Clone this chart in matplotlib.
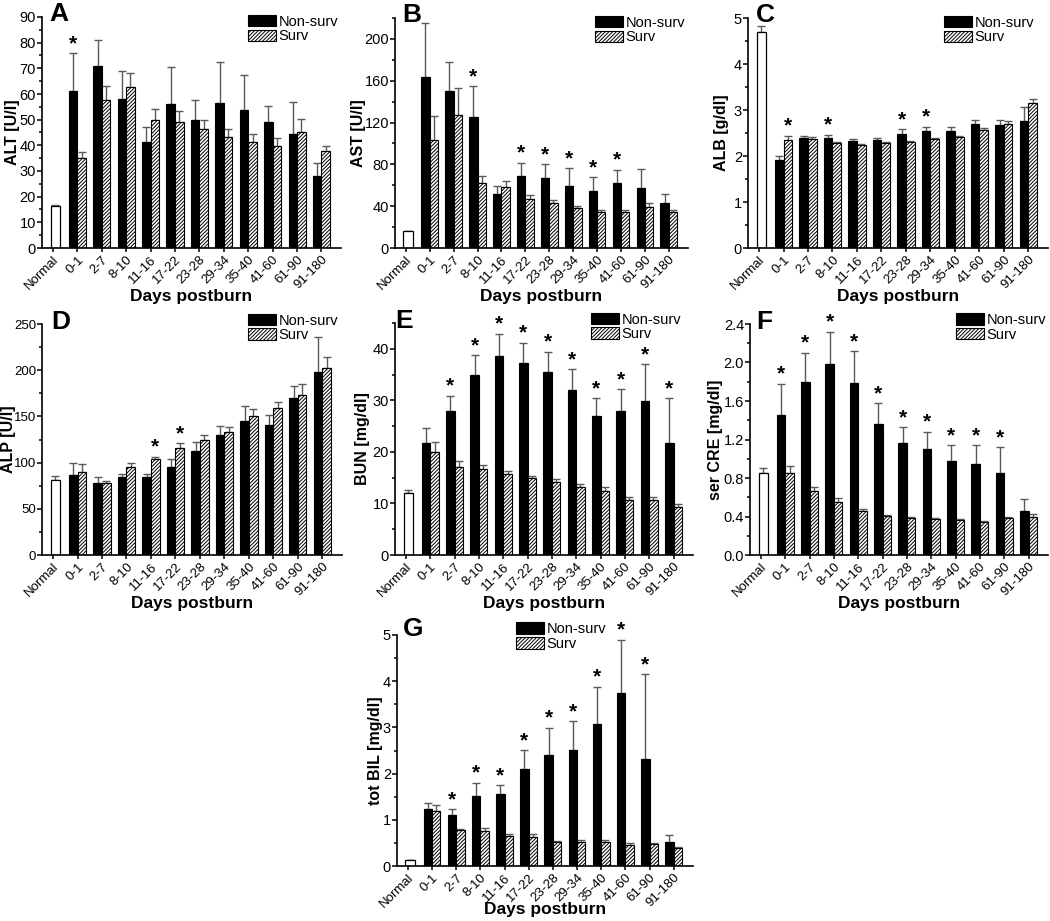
import numpy as np
import matplotlib
matplotlib.use("Agg")
import matplotlib.pyplot as plt
from matplotlib.patches import Patch
from matplotlib.ticker import MultipleLocator

plt.rcParams['font.family'] = ['Liberation Sans', 'DejaVu Sans']
plt.rcParams['hatch.linewidth'] = 0.7

groups = ["0-1", "2-7", "8-10", "11-16", "17-22", "23-28", "29-34",
          "35-40", "41-60", "61-90", "91-180"]
tick_labels = ["Normal"] + groups

# ALT [U/l]
alt_normal, alt_normal_err = 16.2, 0.4
alt_ns = [61, 71, 58, 41.2, 56, 50, 56.5, 53.7, 49, 44.5, 28]
alt_ns_err = [15, 10, 11, 5.8, 14.5, 7.8, 16, 13.8, 6.3, 12.3, 5]
alt_s = [35, 57.7, 62.8, 49.8, 49, 46.4, 43.3, 41.4, 39.8, 45.3, 37.7]
alt_s_err = [2.5, 5.3, 5.5, 4.2, 4.2, 3.6, 3, 3.1, 3.2, 4.9, 2.1]
alt_star_ns = [0]
alt_star_s = []

# AST [U/l]
ast_normal, ast_normal_err = 16, 0.5
ast_ns = [164, 150, 125, 52, 69, 67, 59, 54.4, 62.3, 57, 43.4]
ast_ns_err = [51, 28, 30, 7.5, 12.6, 13, 17.6, 13.6, 12.7, 19, 8.6]
ast_s = [103, 127, 62, 58, 47, 43, 38, 34.5, 34.5, 39.5, 34.5]
ast_s_err = [23, 26, 7, 6, 4, 2.5, 2.5, 2, 2, 3.2, 2]
ast_star_ns = [2, 4, 5, 6, 7, 8]
ast_star_s = []

# ALB [g/dl]
alb_normal, alb_normal_err = 4.70, 0.13
alb_ns = [1.92, 2.39, 2.39, 2.32, 2.35, 2.48, 2.55, 2.55, 2.69, 2.68, 2.76]
alb_ns_err = [0.09, 0.05, 0.07, 0.05, 0.05, 0.10, 0.09, 0.09, 0.10, 0.11, 0.31]
alb_s = [2.34, 2.38, 2.28, 2.23, 2.28, 2.31, 2.37, 2.41, 2.57, 2.70, 3.16]
alb_s_err = [0.10, 0.04, 0.03, 0.02, 0.03, 0.02, 0.02, 0.02, 0.04, 0.06, 0.08]
alb_star_ns = [2, 5, 6]
alb_star_s = [0]

# ALP [U/l]
alp_normal, alp_normal_err = 81, 4
alp_ns = [86.6, 78.3, 84, 84, 95.6, 113, 130, 145, 141, 169.5, 198.4]
alp_ns_err = [13.4, 6.5, 3.7, 4, 8.4, 9.6, 10, 16, 10.5, 13.5, 37]
alp_s = [90, 77.6, 95.6, 103.5, 116, 125, 133.5, 150, 158.7, 173, 202]
alp_s_err = [9, 2.4, 4.4, 2.9, 5, 5, 5.5, 7.6, 7.3, 11.7, 12]
alp_star_ns = []
alp_star_s = [3, 4]

# BUN [mg/dl]
bun_normal, bun_normal_err = 12.1, 0.5
bun_ns = [21.8, 28, 35, 38.6, 37.3, 35.4, 32, 27, 28, 29.8, 21.7]
bun_ns_err = [2.8, 2.9, 3.8, 4.3, 3.9, 4, 4, 3.4, 4.2, 7.2, 8.7]
bun_s = [20, 17, 16.6, 15.7, 14.9, 14.2, 13.2, 12.5, 10.7, 10.6, 9.4]
bun_s_err = [1.9, 1.2, 0.9, 0.6, 0.5, 0.6, 0.5, 0.7, 0.5, 0.6, 0.5]
bun_star_ns = [1, 2, 3, 4, 5, 6, 7, 8, 9, 10]
bun_star_s = []

# ser CRE [mg/dl]
cre_normal, cre_normal_err = 0.85, 0.05
cre_ns = [1.455, 1.80, 1.98, 1.79, 1.36, 1.16, 1.10, 0.98, 0.945, 0.85, 0.46]
cre_ns_err = [0.325, 0.30, 0.34, 0.33, 0.22, 0.17, 0.18, 0.16, 0.195, 0.27, 0.12]
cre_s = [0.85, 0.66, 0.55, 0.46, 0.405, 0.38, 0.37, 0.36, 0.345, 0.38, 0.40]
cre_s_err = [0.07, 0.05, 0.04, 0.015, 0.015, 0.01, 0.015, 0.015, 0.01, 0.015, 0.03]
cre_star_ns = [0, 1, 2, 3, 4, 5, 6, 7, 8, 9]
cre_star_s = []

# tot BIL [mg/dl]
bil_normal, bil_normal_err = 0.12, 0.02
bil_ns = [1.24, 1.11, 1.51, 1.55, 2.09, 2.41, 2.51, 3.07, 3.74, 2.31, 0.53]
bil_ns_err = [0.13, 0.12, 0.29, 0.20, 0.42, 0.58, 0.63, 0.81, 1.16, 1.84, 0.15]
bil_s = [1.20, 0.77, 0.75, 0.65, 0.63, 0.51, 0.51, 0.52, 0.46, 0.47, 0.39]
bil_s_err = [0.13, 0.04, 0.08, 0.05, 0.07, 0.03, 0.05, 0.05, 0.04, 0.03, 0.02]
bil_star_ns = [1, 2, 3, 4, 5, 6, 7, 8, 9]
bil_star_s = []

W, H = 1050, 921
fig = plt.figure(figsize=(W / 100, H / 100), dpi=100)

bw = 0.35
ecol = "#5a5a5a"
hatch = "/////////"


def px_axes(left, right, top, bottom):
    return fig.add_axes([left / W, 1 - bottom / H, (right - left) / W, (bottom - top) / H])


def panel(ax, letter, normal, normal_err, ns, ns_err, s, s_err, star_ns, star_s,
          ylabel, ymax, major, minor, fmt, leg_xy, letter_xy, ylab_x,
          ysize=10.5, xlab_y=-0.21):
    x = np.arange(1, len(ns) + 1)
    ax.bar(0.1, normal, width=0.4, color="white", edgecolor="black", linewidth=0.9, zorder=2)
    ax.errorbar(0.1, normal, yerr=[[0], [normal_err]], fmt="none", ecolor=ecol,
                elinewidth=1.0, capsize=3, capthick=1.0, zorder=1)
    ax.bar(x - bw / 2, ns, width=bw, color="black", edgecolor="black", linewidth=0.8, zorder=2)
    ax.bar(x + bw / 2, s, width=bw, color="white", edgecolor="black", hatch=hatch,
           linewidth=0.8, zorder=2)
    ax.errorbar(x - bw / 2, ns, yerr=[np.zeros(len(ns)), ns_err], fmt="none", ecolor=ecol,
                elinewidth=1.0, capsize=3, capthick=1.0, zorder=1)
    ax.errorbar(x + bw / 2, s, yerr=[np.zeros(len(s)), s_err], fmt="none", ecolor=ecol,
                elinewidth=1.0, capsize=3, capthick=1.0, zorder=1)
    for i in star_ns:
        ax.annotate("*", (x[i] - bw / 2, ns[i] + ns_err[i]), xytext=(0, 0),
                    textcoords="offset points", ha="center", va="bottom",
                    fontsize=15, fontweight="bold")
    for i in star_s:
        ax.annotate("*", (x[i] + bw / 2, s[i] + s_err[i]), xytext=(0, 0),
                    textcoords="offset points", ha="center", va="bottom",
                    fontsize=15, fontweight="bold")

    ax.set_xlim(-0.45, 11.8)
    ax.set_ylim(0, ymax)
    ax.set_xticks(np.arange(0, len(ns) + 1))
    ax.set_xticklabels(tick_labels, rotation=45, ha="right", rotation_mode="anchor",
                       fontsize=9.5)
    ax.yaxis.set_major_locator(MultipleLocator(major))
    ax.yaxis.set_minor_locator(MultipleLocator(minor))
    ax.yaxis.set_major_formatter(plt.FormatStrFormatter(fmt))
    ax.tick_params(axis="y", which="major", length=3.5, width=1.1, labelsize=ysize, pad=0.8)
    ax.tick_params(axis="y", which="minor", length=2.5, width=1.1)
    ax.tick_params(axis="x", length=3, width=1.1, pad=1)
    for side in ("top", "right"):
        ax.spines[side].set_visible(False)
    for side in ("left", "bottom"):
        ax.spines[side].set_linewidth(1.2)
    ax.set_ylabel(ylabel, fontsize=11.5, fontweight="bold", va="center")
    ax.yaxis.set_label_coords(ylab_x, 0.5)
    ax.text(0.5, xlab_y, "Days postburn", transform=ax.transAxes, ha="center",
            va="center", fontsize=12.5, fontweight="bold")
    ax.text(letter_xy[0], letter_xy[1], letter, transform=ax.transAxes, ha="left",
            va="top", fontsize=19, fontweight="bold")
    handles = [Patch(facecolor="black", edgecolor="black", linewidth=0.8),
               Patch(facecolor="white", edgecolor="black", hatch=hatch, linewidth=0.8)]
    ax.legend(handles, ["Non-surv", "Surv"], loc="upper left", bbox_to_anchor=leg_xy,
              frameon=False, fontsize=10.5, handlelength=1.9, handleheight=0.85,
              handletextpad=0.2, labelspacing=0.05, borderaxespad=0, borderpad=0)


axA = px_axes(42, 341, 17, 248)
panel(axA, "A", alt_normal, alt_normal_err, alt_ns, alt_ns_err, alt_s, alt_s_err,
      alt_star_ns, alt_star_s, "ALT [U/l]", 90, 10, 5, "%d", (0.689, 1.01), (0.025, 1.065), -0.1)

axB = px_axes(395, 688, 18, 248)
panel(axB, "B", ast_normal, ast_normal_err, ast_ns, ast_ns_err, ast_s, ast_s_err,
      ast_star_ns, ast_star_s, "AST [U/l]", 220, 40, 20, "%d", (0.683, 1.01), (0.025, 1.065), -0.125)

axC = px_axes(748, 1048, 18, 248)
panel(axC, "C", alb_normal, alb_normal_err, alb_ns, alb_ns_err, alb_s, alb_s_err,
      alb_star_ns, alb_star_s, "ALB [g/dl]", 5, 1, 0.5, "%d", (0.653, 1.01), (0.025, 1.065), -0.087)

axD = px_axes(42, 342, 324, 555)
panel(axD, "D", alp_normal, alp_normal_err, alp_ns, alp_ns_err, alp_s, alp_s_err,
      alp_star_ns, alp_star_s, "ALP [U/l]", 250, 50, 25, "%d", (0.687, 1.045), (0.03, 1.06), -0.113,
      ysize=9.5)

axE = px_axes(395, 693, 323, 555)
panel(axE, "E", bun_normal, bun_normal_err, bun_ns, bun_ns_err, bun_s, bun_s_err,
      bun_star_ns, bun_star_s, "BUN [mg/dl]", 45, 10, 5, "%d", (0.658, 1.045), (0.0, 1.06), -0.11)

axF = px_axes(750, 1048, 324, 555)
panel(axF, "F", cre_normal, cre_normal_err, cre_ns, cre_ns_err, cre_s, cre_s_err,
      cre_star_ns, cre_star_s, "ser CRE [mg/dl]", 2.4, 0.4, 0.2, "%.1f", (0.691, 1.048), (0.02, 1.06), -0.115)

axG = px_axes(397, 693, 635, 866)
panel(axG, "G", bil_normal, bil_normal_err, bil_ns, bil_ns_err, bil_s, bil_s_err,
      bil_star_ns, bil_star_s, "tot BIL [mg/dl]", 5, 1, 0.5, "%d", (0.402, 1.056), (0.02, 1.08), -0.074,
      xlab_y=-0.19)

fig.savefig("out.png", dpi=100)
